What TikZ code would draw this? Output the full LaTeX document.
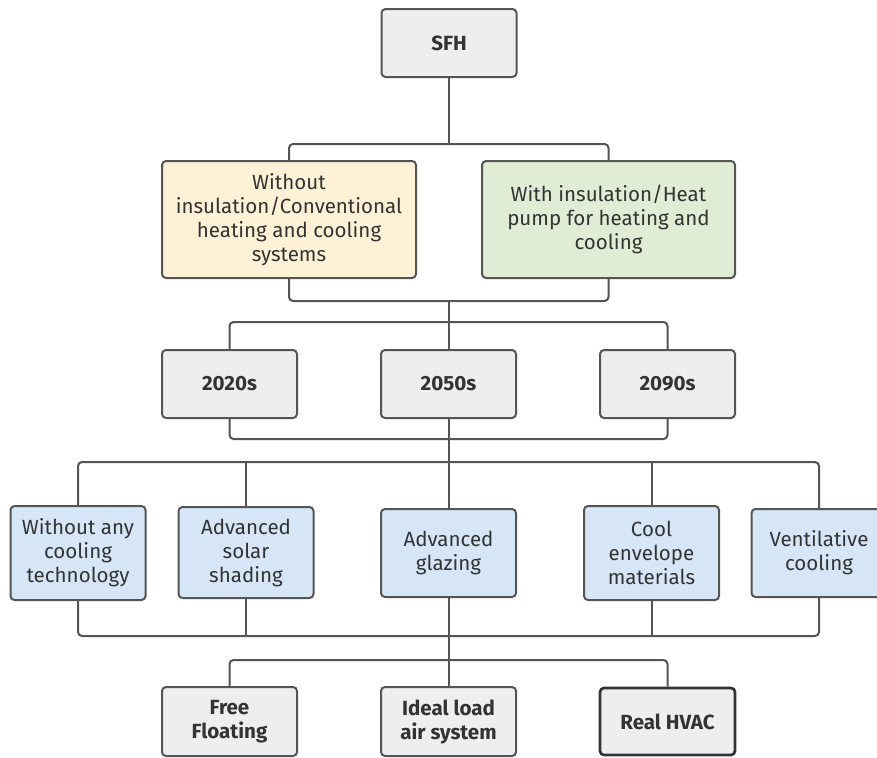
\documentclass[tikz,border=0pt]{standalone}
\usepackage{fontspec}
\setmainfont{Fira Sans}
\usepackage{xcolor}
\usepackage{tikz}
\definecolor{edge}{HTML}{555555}
\definecolor{ink}{HTML}{333333}
\definecolor{grayfill}{HTML}{EEEEEE}
\definecolor{peach}{HTML}{FFF1D6}
\definecolor{sage}{HTML}{E1ECD4}
\definecolor{sky}{HTML}{D6E6F7}
\tikzset{
  box/.style={draw=edge, line width=1.5pt, rounded corners=3pt, align=center,
    text=ink, font=\fontsize{15.4}{18}\selectfont, inner sep=2pt},
  grey/.style={box, fill=grayfill, font=\fontsize{15.4}{18}\selectfont\bfseries,
    minimum width=135*0.75pt, minimum height=68*0.75pt},
  opt/.style={box, fill=sky, minimum width=135*0.75pt},
  link/.style={draw=edge, line width=1.5pt, rounded corners=3pt}
}

\begin{document}
\begin{tikzpicture}[x=0.75pt,y=-0.75pt]
\fill[white] (0,0) rectangle (877,757);
\useasboundingbox (0,0) rectangle (877,757);

\node[grey] (sfh) at (449,43) {SFH};

\node[box, fill=peach, minimum width=254*0.75pt, minimum height=117*0.75pt]
  (conv) at (289,219.5) {Without\\insulation/Conventional\\heating and cooling\\systems};
\node[box, fill=sage, minimum width=253*0.75pt, minimum height=117*0.75pt]
  (heat) at (608.5,219.5) {With insulation/Heat\\pump for heating and\\cooling};

\node[grey] (y2020) at (229.5,384) {2020s};
\node[grey] (y2050) at (448.5,384) {2050s};
\node[grey] (y2090) at (667.5,384) {2090s};

\node[opt, minimum height=94*0.75pt] (nocool) at (78,553) {Without any\\cooling\\technology};
\node[opt, minimum height=91*0.75pt] (shading) at (246,552.5) {Advanced\\solar\\shading};
\node[opt, minimum height=88*0.75pt] (glazing) at (448.5,553) {Advanced\\glazing};
\node[opt, minimum height=94*0.75pt] (envelope) at (651.5,553) {Cool\\envelope\\materials};
\node[opt, minimum height=88*0.75pt] (venti) at (819,553) {Ventilative\\cooling};

\node[grey, minimum height=69*0.75pt] (free) at (229.5,721.5) {Free\\Floating};
\node[grey, minimum height=69*0.75pt] (ideal) at (448.5,721.5) {Ideal load\\air system};
\node[grey, minimum height=67*0.75pt, draw=ink, line width=2pt] (hvac) at (667.5,721.5) {Real HVAC};

\coordinate (b1) at (449,144);
\coordinate (b2) at (448.5,301);
\coordinate (b3) at (448.5,322);
\coordinate (b4) at (448.5,439);
\coordinate (b5) at (448.5,462);
\coordinate (b6) at (448.5,636);
\coordinate (b7) at (448.5,660);

\draw[link] (sfh) -- (b1);
\draw[link] (conv.north) |- (b1) -| (heat.north);
\draw[link] (conv.south) |- (b2) -| (heat.south);
\draw[link] (b2) -- (b3);

\draw[link] (y2020.north) |- (b3) -| (y2090.north);
\draw[link] (b3) -- (y2050.north);
\draw[link] (y2020.south) |- (b4) -| (y2090.south);
\draw[link] (y2050.south) -- (b4);
\draw[link] (b4) -- (b5);

\draw[link] (nocool.north) |- (b5) -| (venti.north);
\draw[link] (shading.north) -- (shading.north |- b5);
\draw[link] (b5) -- (glazing.north);
\draw[link] (envelope.north) -- (envelope.north |- b5);
\draw[link] (nocool.south) |- (b6) -| (venti.south);
\draw[link] (shading.south) -- (shading.south |- b6);
\draw[link] (glazing.south) -- (b6);
\draw[link] (envelope.south) -- (envelope.south |- b6);
\draw[link] (b6) -- (b7);

\draw[link] (free.north) |- (b7) -| (hvac.north);
\draw[link] (b7) -- (ideal.north);
\end{tikzpicture}
\end{document}
